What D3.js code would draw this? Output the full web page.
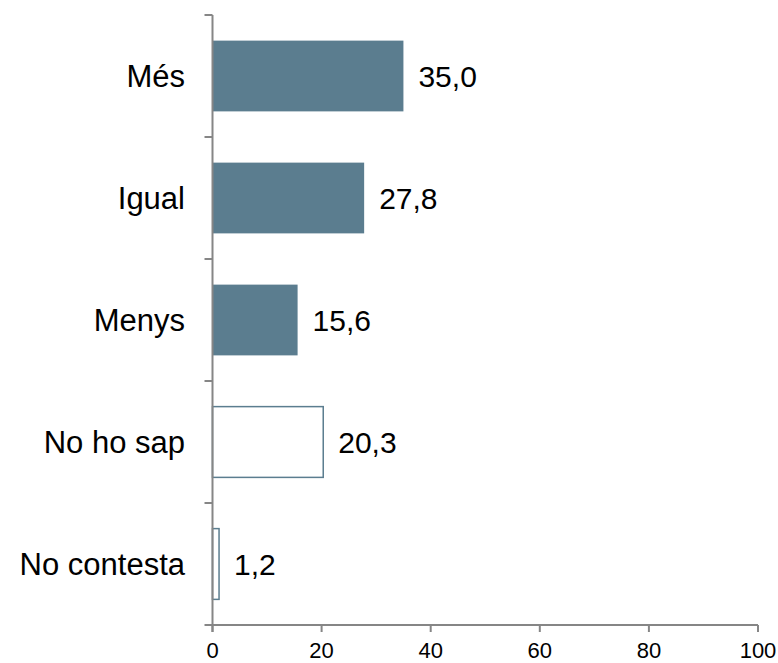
<!DOCTYPE html>
<html><head><meta charset="utf-8">
<script src="https://cdn.jsdelivr.net/npm/d3@7"></script>
<style>body{margin:0;background:#fff}</style>
</head><body>
<svg id="c" width="778" height="663"></svg>
<script>
const categories = ["Més","Igual","Menys","No ho sap","No contesta"];
const values = [35.0, 27.8, 15.6, 20.3, 1.2];
const filled = [true, true, true, false, false];
const xTicks = [0,20,40,60,80,100];

(function(){
const svg = d3.select("#c");
const mLeft = 212.5, mRight = 758, mTop = 15, mBottom = 625;
const axisColor = "#868686", barColor = "#5b7d8f";
const font = "Liberation Sans, Arial, sans-serif";

const x = d3.scaleLinear().domain([0,100]).range([mLeft,mRight]);
const y = d3.scaleBand().domain(categories).range([mTop,mBottom]).paddingInner(0.42).paddingOuter(0.21);
const step = (mBottom-mTop)/categories.length;

svg.selectAll("rect.bar").data(categories).enter().append("rect")
  .attr("x", x(0))
  .attr("y", d=>y(d))
  .attr("width", (d,i)=> x(values[i]) - x(0))
  .attr("height", y.bandwidth())
  .attr("fill", (d,i)=> filled[i] ? barColor : "#fff")
  .attr("stroke", (d,i)=> filled[i] ? "none" : barColor)
  .attr("stroke-width", 1.5);

svg.selectAll("text.val").data(categories).enter().append("text")
  .attr("x", (d,i)=> x(values[i]) + 15)
  .attr("y", d=> y(d)+y.bandwidth()/2)
  .attr("dy","0.35em")
  .attr("font-family", font).attr("font-size", 30).attr("fill","#000")
  .text((d,i)=> d3.format(".1f")(values[i]).replace(".",","));

svg.selectAll("text.cat").data(categories).enter().append("text")
  .attr("x", 185)
  .attr("y", d=> y(d)+y.bandwidth()/2)
  .attr("dy","0.35em")
  .attr("text-anchor","end")
  .attr("font-family", font).attr("font-size", 31).attr("fill","#000")
  .text(d=>d);

svg.append("line").attr("x1",mLeft).attr("x2",mLeft).attr("y1",mTop).attr("y2",mBottom+7)
  .attr("stroke",axisColor).attr("stroke-width",2);
const bounds = d3.range(categories.length+1).map(i=> mTop + i*step);
svg.selectAll("line.yt").data(bounds).enter().append("line")
  .attr("x1",mLeft-8).attr("x2",mLeft).attr("y1",d=>d).attr("y2",d=>d)
  .attr("stroke",axisColor).attr("stroke-width",2);

svg.append("line").attr("x1",mLeft).attr("x2",mRight).attr("y1",mBottom).attr("y2",mBottom)
  .attr("stroke",axisColor).attr("stroke-width",2);
svg.selectAll("line.xt").data(xTicks).enter().append("line")
  .attr("x1",d=>x(d)).attr("x2",d=>x(d)).attr("y1",mBottom).attr("y2",mBottom+7)
  .attr("stroke",axisColor).attr("stroke-width",2);
svg.selectAll("text.xt").data(xTicks).enter().append("text")
  .attr("x",d=>x(d)).attr("y",mBottom+33)
  .attr("text-anchor","middle")
  .attr("font-family", font).attr("font-size", 22).attr("fill","#000")
  .text(d=>d);
})();
</script>
</body></html>
